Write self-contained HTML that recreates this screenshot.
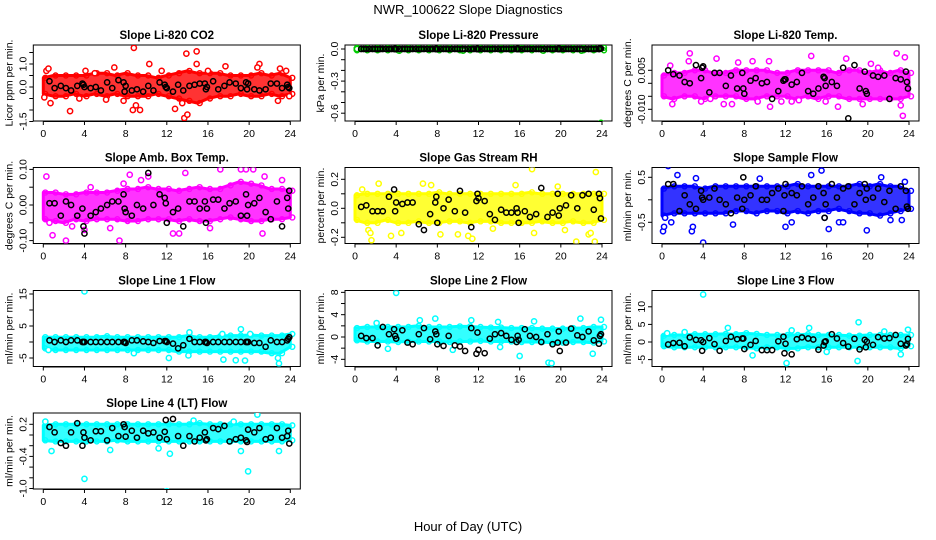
<!DOCTYPE html>
<html><head><meta charset="utf-8"><style>
html,body{margin:0;padding:0;background:#fff}
svg{display:block;font-family:"Liberation Sans",sans-serif}
</style></head><body>
<svg id="c" width="936" height="540" viewBox="0 0 936 540">
<text x="468" y="14" text-anchor="middle" font-size="13">NWR_100622  Slope Diagnostics</text>
<text x="468" y="531" text-anchor="middle" font-size="13">Hour of Day (UTC)</text>
</svg>
<script>
// shared data
const bandHours=[0,1,2,3,4,5,6,7,8,9,10,11,12,13,14,15,16,17,18,19,20,21,22,23,24];
const blackHours=[0.6,1.1,1.7,2.2,2.7,3.3,3.8,3.9,4.0,4.6,5.1,5.6,6.2,6.7,7.3,7.8,7.9,8.0,8.6,9.1,9.7,10.2,10.7,11.3,11.8,11.9,12.0,12.6,13.1,13.6,14.2,14.7,15.2,15.7,15.8,15.9,16.5,17.0,17.6,18.1,18.7,19.2,19.7,19.8,19.9,20.5,21.0,21.6,22.1,22.7,23.2,23.7,23.8,23.9];
const xTicks=[0,4,8,12,16,20,24];
// panel 1 CO2
const co2Lo=[-0.3,-0.4,-0.4,-0.3,-0.4,-0.3,-0.4,-0.3,-0.4,-0.4,-0.4,-0.3,-0.4,-0.5,-0.6,-0.7,-0.5,-0.4,-0.4,-0.3,-0.4,-0.4,-0.3,-0.4,-0.3];
const co2Hi=[0.4,0.5,0.5,0.5,0.5,0.6,0.6,0.5,0.6,0.5,0.5,0.4,0.5,0.6,0.7,0.6,0.6,0.6,0.5,0.5,0.5,0.6,0.5,0.6,0.4];
const co2PtX=[0.3,0.5,0.7,2.6,4.1,6.9,7.8,8.8,9.0,8.7,9.4,10.3,12.8,13.7,13.9,13.5,14.0,14.9,14.9,17.7,21.0,20.8,23.0,23.6,23.9,22.8,5.0,11.5,16.0,0.1,3.5,6.1];
const co2PtY=[0.7,0.8,-0.7,-1.05,0.7,0.85,-0.6,1.7,-0.8,-1.0,-1.0,1.0,-0.95,-1.35,1.45,-0.7,-1.2,1.55,1.0,0.9,1.0,0.85,0.8,0.7,-0.4,-0.6,0.6,0.7,0.7,-0.45,-0.5,-0.55];
const co2Black=[0.25,-0.05,0.05,-0.05,-0.15,0.05,0.15,0.1,0.0,-0.05,0.0,-0.15,0.2,-0.05,0.3,0.2,-0.2,0.05,-0.15,-0.1,-0.2,0.05,-0.15,0.2,0.1,0.0,-0.05,-0.2,0.1,-0.15,0.05,0.1,0.15,0.15,-0.1,0.0,0.25,-0.1,0.05,0.2,0.15,-0.05,0.2,-0.1,0.15,-0.1,-0.15,-0.1,0.15,0.15,-0.05,0.1,0.0,-0.05];
// panel 2 Pressure
const presLo=[-0.012,-0.012,-0.012,-0.012,-0.012,-0.012,-0.012,-0.012,-0.012,-0.012,-0.012,-0.012,-0.012,-0.012,-0.012,-0.012,-0.012,-0.012,-0.012,-0.012,-0.012,-0.012,-0.012,-0.012,-0.012];
const presHi=[0.01,0.01,0.01,0.01,0.01,0.012,0.01,0.01,0.01,0.01,0.01,0.01,0.01,0.01,0.01,0.01,0.012,0.01,0.01,0.012,0.01,0.01,0.01,0.01,0.012];
const presPtX=[8.0,16.0,23.9,0.2,4.3,10.5,18.3,22.0];
const presPtY=[-0.73,-0.75,-0.69,0.0,-0.015,-0.015,-0.015,-0.015];
const presBlack=[0,0,0,0,0,0,0,0,0,0,0,0,0,0,0,0,0,0,0,0,0,0,0,0,0,0,0,0,0,0,0,0,0,0,0,0,0,0,0,0,0,0,0,0,0,0,0,0,0,0,0,0,0.005,0.005];
// panel 3 Temp
const tempLo=[-0.005,-0.006,-0.005,-0.005,-0.006,-0.005,-0.005,-0.005,-0.006,-0.006,-0.005,-0.005,-0.005,-0.006,-0.005,-0.006,-0.005,-0.005,-0.006,-0.006,-0.006,-0.006,-0.006,-0.006,-0.005];
const tempHi=[0.003,0.004,0.004,0.005,0.005,0.004,0.004,0.005,0.005,0.005,0.005,0.004,0.004,0.005,0.005,0.005,0.005,0.004,0.005,0.005,0.004,0.005,0.004,0.005,0.004];
const tempPtX=[1.0,2.7,2.6,3.8,4.7,5.3,6.0,6.8,7.4,8.8,9.3,10.5,11.6,12.6,13.3,14.5,15.9,17.1,17.9,19.5,20.3,21.0,22.8,23.2,23.4,23.6,0.8,10.4];
const tempPtY=[-0.008,0.0115,0.0085,-0.007,-0.006,0.0095,-0.008,-0.008,0.008,0.0085,-0.007,-0.009,-0.007,-0.007,-0.0065,0.0105,-0.007,-0.009,0.0095,-0.008,0.0075,0.006,0.0115,-0.0085,-0.0125,0.010,0.0068,0.0085];
const tempBlack=[0.005,0.0035,0.003,0.0005,0,0.007,0.002,0.006,0.0065,-0.0035,0.004,0.004,-0.001,0.003,-0.002,0.004,-0.002,-0.004,0.001,0.002,0.0,0.0005,-0.006,-0.003,0.001,0.0015,0.0015,-0.0005,0.0005,0.004,-0.003,-0.004,-0.002,0.0025,0.002,-0.001,0.0005,-0.001,0.006,-0.0135,0.007,-0.002,0.0045,-0.003,-0.004,0.003,0.0025,0.003,-0.006,0.002,0.0015,0.0045,0.0005,-0.002];
// panel 4 Amb box temp
const ambLo=[-0.04,-0.045,-0.05,-0.04,-0.045,-0.04,-0.04,-0.04,-0.045,-0.045,-0.04,-0.04,-0.04,-0.045,-0.04,-0.045,-0.045,-0.04,-0.035,-0.04,-0.045,-0.045,-0.04,-0.04,-0.035];
const ambHi=[0.035,0.035,0.03,0.03,0.035,0.035,0.035,0.04,0.045,0.045,0.05,0.045,0.045,0.04,0.045,0.05,0.045,0.045,0.055,0.065,0.06,0.055,0.045,0.045,0.04];
const ambPtX=[0.3,0.6,0.9,2.2,4.0,4.6,7.4,7.8,8.4,9.5,10.2,12.6,13.2,13.8,17.2,19.2,19.7,20.4,21.3,21.5,23.2,2.8,6.5,16.2];
const ambPtY=[0.08,-0.05,-0.085,-0.1,-0.07,0.05,-0.1,0.06,0.085,0.07,0.08,-0.08,-0.08,0.09,0.1,0.1,0.1,0.1,-0.08,0.08,0.07,-0.06,-0.065,-0.065];
const ambBlack=[0.005,0.005,-0.03,0.01,0.0,-0.03,-0.01,-0.06,-0.08,-0.03,-0.02,-0.01,0.0,0.01,0.01,0.03,-0.01,-0.02,-0.03,0.0,-0.01,0.09,0.0,0.03,0.02,0.005,-0.05,-0.02,-0.01,-0.06,0.01,0.01,-0.01,0.01,-0.05,-0.01,0.015,0.015,-0.01,0.005,0.01,-0.03,0.03,-0.03,0.0,0.005,0.02,-0.02,-0.04,0.01,-0.06,0.02,-0.01,0.04];
// panel 5 RH
const rhLo=[-0.08,-0.1,-0.1,-0.08,-0.1,-0.1,-0.09,-0.1,-0.1,-0.09,-0.09,-0.1,-0.09,-0.09,-0.1,-0.1,-0.1,-0.1,-0.09,-0.1,-0.1,-0.09,-0.1,-0.1,-0.08];
const rhHi=[0.09,0.1,0.1,0.1,0.1,0.1,0.1,0.1,0.11,0.1,0.1,0.1,0.1,0.1,0.1,0.1,0.1,0.11,0.1,0.1,0.1,0.1,0.1,0.1,0.1];
const rhPtX=[0.7,1.3,1.6,2.3,3.5,4.5,6.6,7.4,8.3,10.0,11.0,11.4,13.4,15.6,17.2,17.4,19.7,21.5,22.7,22.9,23.3,23.4,1.5,20.4];
const rhPtY=[0.13,-0.15,-0.22,0.17,-0.19,-0.17,0.17,0.16,-0.18,-0.18,-0.19,-0.21,-0.14,0.16,0.27,-0.17,0.15,-0.23,-0.18,-0.17,-0.23,0.25,-0.17,-0.15];
const rhBlack=[0.01,0.02,-0.02,-0.02,-0.02,0.08,0.13,-0.02,0.04,0.03,0.04,0.04,-0.11,-0.15,-0.04,0.04,0.08,-0.1,0.0,0.06,-0.02,0.12,-0.03,-0.13,0.05,0.1,0.07,0.05,-0.04,-0.08,-0.01,-0.03,-0.03,0.0,-0.03,-0.1,-0.02,-0.06,-0.04,0.14,-0.06,-0.03,0.1,-0.05,0.0,0.02,0.09,0.0,0.09,0.1,-0.01,0.1,0.07,-0.07];
// panel 6 Sample flow
const smpLo=[-0.35,-0.3,-0.3,-0.3,-0.3,-0.3,-0.3,-0.25,-0.25,-0.3,-0.25,-0.25,-0.3,-0.25,-0.3,-0.25,-0.25,-0.2,-0.25,-0.3,-0.3,-0.35,-0.3,-0.25,-0.2];
const smpHi=[0.25,0.3,0.3,0.3,0.25,0.3,0.3,0.3,0.3,0.3,0.3,0.3,0.3,0.35,0.3,0.3,0.3,0.3,0.3,0.35,0.3,0.35,0.3,0.3,0.2];
const smpPtX=[0.1,0.2,0.3,0.6,1.5,2.9,3.0,3.3,4.0,6.9,9.5,12.0,12.6,14.5,15.5,15.8,16.2,17.2,17.6,19.9,21.3,22.2,23.3,23.6,0.9];
const smpPtY=[-0.7,-0.6,-0.4,0.75,0.55,-0.7,-0.6,0.48,-0.95,-0.55,0.47,-0.6,-0.5,0.55,0.65,-0.4,-0.65,-0.5,-0.5,-0.68,0.5,-0.45,-0.45,0.4,-0.5];
const smpBlack=[0.35,0.35,-0.25,0.1,-0.1,-0.2,0.2,0.05,0.0,0.05,0.25,0.0,-0.1,-0.3,0.05,-0.2,0.5,0.0,0.1,0.3,0.0,0.0,0.15,0.25,-0.25,0.1,0.35,0.15,0.1,0.3,-0.1,0.05,0.3,0.15,-0.4,-0.1,0.35,0.05,0.25,0.3,-0.1,0.15,0.35,0.0,0.25,0.05,0.25,-0.05,0.2,-0.2,0.3,0.2,-0.15,-0.2];
// panel 7 Line 1
const l1Lo=[-2,-2.5,-2.5,-2.5,-2.5,-2.5,-2.5,-2.5,-2.5,-2.5,-2.5,-2.5,-2.5,-3,-3,-3,-3,-3,-3,-3,-3,-3,-3.5,-3.5,-1.5];
const l1Hi=[1.5,1.5,1.5,1.5,1.5,1.5,1.8,1.5,1.5,1.5,1.5,1.5,1.5,1.5,2,1.5,1.5,1.8,2,2,2.2,2,2,2,2.5];
const l1PtX=[4.0,19.2,14.2,17.4,22.9,22.8,12.2,17.5,18.7,19.6,14.1,20.1,0.5,8.8];
const l1PtY=[15.8,4.0,3.0,2.5,-6.7,-5.0,-5.0,-5.5,-5.7,-5.8,-4.2,2.5,-2.5,-3.5];
const l1Black=[0.5,0,0.5,0,0.5,0.5,0,0,0,0,0,0,0,0,0,0,0,-0.3,0.5,0.5,0.2,0,-0.3,0.3,0.3,0.3,0,-0.5,-2,-1,1,0,0,0,0,-0.3,0,0,0,0,0,0,0,0,0,-0.3,-0.3,-1.5,0.5,0,0,0.5,1,1.5];
// panel 8 Line 2
const l2Lo=[-0.6,-0.8,-0.8,-0.8,-0.9,-0.8,-0.8,-0.8,-0.8,-0.9,-0.8,-0.8,-0.7,-0.8,-0.8,-0.8,-0.9,-0.9,-0.9,-1.0,-1.0,-0.9,-0.9,-1.0,-0.8];
const l2Hi=[1.6,1.8,1.8,1.8,1.8,1.8,2.0,1.8,1.8,1.8,1.9,1.9,1.8,1.7,1.7,1.6,1.6,1.6,1.5,1.5,1.5,1.6,1.6,1.8,1.8];
const l2PtX=[4.0,18.8,19.1,16.0,21.9,23.9,7.8,6.3,3.2,9.5,11.3,14.1,17.4,23.1,13.9,2.1];
const l2PtY=[7.9,-4.6,-4.7,-3.4,3.3,3.1,3.3,3.0,-2.1,-2.3,3.0,-1.8,2.8,-3.0,2.7,2.5];
const l2Black=[0.2,-0.2,-0.2,-1.5,1.8,0.5,1.4,0.2,-0.3,1.2,-1.0,-1.3,0.5,1.6,-0.4,1.0,0.5,-1.3,-1.6,0.2,-1.5,-1.7,-2.5,1.6,-3.0,0.8,-2.3,-2.9,-0.3,0.5,0.7,0.2,-0.5,-0.9,0.2,-0.5,1.4,0.2,0.0,-0.9,0.5,-1.3,-1.0,1.0,-2.5,-1.0,1.5,0.3,0.0,1.0,-0.6,-1.2,0.2,0.5];
// panel 9 Line 3
const l3Lo=[-1.2,-1.5,-1.5,-1.5,-1.5,-1.5,-1.5,-1.5,-1.5,-1.8,-1.5,-1.5,-1.8,-1.8,-1.5,-1.5,-1.5,-1.5,-1.5,-1.5,-1.5,-1.5,-1.5,-1.8,-1.2];
const l3Hi=[1.8,2.0,2.0,2.2,2.2,2.2,2.3,2.2,2.5,2.3,2.0,2.0,2.0,2.0,2.2,2.0,2.0,2.0,1.8,1.8,2.0,2.0,2.0,2.0,2.0];
const l3PtX=[4.0,19.1,19.0,12.1,23.2,23.9,14.3,6.4,8.8,0.5,2.2,12.6,16.0,21.6];
const l3PtY=[13.5,5.6,-5.4,-6.0,-3.5,3.5,4.0,4.0,-3.8,2.5,2.8,3.3,-2.8,3.0];
const l3Black=[-0.7,-0.3,-0.2,-1.2,1.3,0.6,0.5,-2.5,0.0,1.1,-0.6,-2.5,0.3,1.5,0.8,1.0,1.0,-2,-0.8,0.3,-2.3,-2.3,-2.3,0.2,1.5,-3.2,-0.5,-3.5,0.8,1.3,1.0,0.7,-2.2,-1.0,0.0,0.2,2.2,1.0,-0.3,-1.3,0.9,-2.1,0.6,-1.5,0.1,-0.8,1.4,1.0,1.1,2.0,-0.5,-1.0,-0.6,0.9];
// panel 10 Line 4
const l4Lo=[-0.1,-0.12,-0.12,-0.12,-0.12,-0.12,-0.12,-0.1,-0.12,-0.12,-0.12,-0.12,-0.12,-0.12,-0.12,-0.12,-0.12,-0.12,-0.12,-0.12,-0.12,-0.12,-0.12,-0.12,-0.1];
const l4Hi=[0.18,0.2,0.2,0.2,0.2,0.2,0.2,0.2,0.2,0.2,0.2,0.2,0.2,0.2,0.2,0.22,0.2,0.2,0.2,0.2,0.2,0.2,0.2,0.2,0.18];
const l4PtX=[4.0,12.0,19.9,20.8,12.3,0.8,0.2,11.2,14.6,18.5,19.2,22.9,6.5];
const l4PtY=[-0.82,-1.05,-0.68,0.38,-0.35,-0.3,0.25,-0.25,0.27,0.25,-0.3,-0.3,-0.28];
const l4Black=[0.15,0.05,-0.15,-0.2,0.05,0.22,-0.2,0.05,-0.05,-0.1,0.07,0.07,-0.1,0.13,-0.02,0.2,0.15,-0.03,0.08,-0.05,0.08,0.03,0.05,-0.05,0.06,0.28,-0.08,0.3,-0.02,-0.2,-0.02,-0.12,-0.05,0.05,-0.1,-0.08,0.13,0.11,0.17,-0.12,-0.08,-0.05,-0.1,-0.13,0.1,0.05,0.13,-0.08,-0.05,0.13,-0.05,-0.02,0.08,-0.16];

const NS='http://www.w3.org/2000/svg';
const svg=document.getElementById('c');
function mk(tag,attrs,parent){const e=document.createElementNS(NS,tag);for(const k in attrs)e.setAttribute(k,attrs[k]);(parent||svg).appendChild(e);return e;}
const colX=[43.3,355,662], rowTop=[45,167.5,290.5,413], boxH=76;
const panels=[
 {c:0,r:0,t:'Slope Li-820 CO2',yl:'Licor ppm per min.',col:'#ff0000',z:42,s:23,tv:[-1.5,-1,-0.5,0,0.5,1,1.5],tl:['-1.5','0.0','1.0'],tlv:[-1.5,0,1],lo:co2Lo,hi:co2Hi,px:co2PtX,py:co2PtY,bk:co2Black},
 {c:1,r:0,t:'Slope Li-820 Pressure',yl:'kPa per min.',col:'#00cc00',z:4,s:107,tv:[0,-0.1,-0.2,-0.3,-0.4,-0.5,-0.6],tl:['0.0','-0.3','-0.6'],tlv:[0,-0.3,-0.6],lo:presLo,hi:presHi,px:presPtX,py:presPtY,bk:presBlack},
 {c:2,r:0,t:'Slope Li-820 Temp.',yl:'degrees C per min.',col:'#ff00ff',z:38.3,s:2600,tv:[0.005,0,-0.005,-0.01],tl:['0.005','-0.010'],tlv:[0.005,-0.01],lo:tempLo,hi:tempHi,px:tempPtX,py:tempPtY,bk:tempBlack},
 {c:0,r:1,t:'Slope Amb. Box Temp.',yl:'degrees C per min.',col:'#ff00ff',z:37.5,s:356,tv:[0.1,0.05,0,-0.05,-0.1],tl:['0.10','0.00','-0.10'],tlv:[0.1,0,-0.1],lo:ambLo,hi:ambHi,px:ambPtX,py:ambPtY,bk:ambBlack},
 {c:1,r:1,t:'Slope Gas Stream RH',yl:'percent per min.',col:'#ffff00',z:40.8,s:145,tv:[0.2,0.1,0,-0.1,-0.2],tl:['0.2','0.0','-0.2'],tlv:[0.2,0,-0.2],lo:rhLo,hi:rhHi,px:rhPtX,py:rhPtY,bk:rhBlack},
 {c:2,r:1,t:'Slope Sample Flow',yl:'ml/min per min.',col:'#0000ff',z:32.3,s:45,tv:[0.5,0,-0.5],tl:['0.5','-0.5'],tlv:[0.5,-0.5],lo:smpLo,hi:smpHi,px:smpPtX,py:smpPtY,bk:smpBlack},
 {c:0,r:2,t:'Slope Line 1 Flow',yl:'ml/min per min.',col:'#00ffff',z:51.5,s:3.2,tv:[15,10,5,0,-5],tl:['15','5','-5'],tlv:[15,5,-5],lo:l1Lo,hi:l1Hi,px:l1PtX,py:l1PtY,bk:l1Black},
 {c:1,r:2,t:'Slope Line 2 Flow',yl:'ml/min per min.',col:'#00ffff',z:46.5,s:5.58,tv:[8,6,4,2,0,-2,-4],tl:['8','4','0','-4'],tlv:[8,4,0,-4],lo:l2Lo,hi:l2Hi,px:l2PtX,py:l2PtY,bk:l2Black},
 {c:2,r:2,t:'Slope Line 3 Flow',yl:'ml/min per min.',col:'#00ffff',z:51.5,s:3.52,tv:[10,5,0,-5],tl:['10','5','0','-5'],tlv:[10,5,0,-5],lo:l3Lo,hi:l3Hi,px:l3PtX,py:l3PtY,bk:l3Black},
 {c:0,r:3,t:'Slope Line 4 (LT) Flow',yl:'ml/min per min.',col:'#00ffff',z:22,s:53.5,tv:[0.2,0,-0.2,-0.4,-0.6,-0.8,-1.0],tl:['0.2','-0.4','-1.0'],tlv:[0.2,-0.4,-1.0],lo:l4Lo,hi:l4Hi,px:l4PtX,py:l4PtY,bk:l4Black}
];
panels.forEach((p,i)=>{
 const x0=colX[p.c], top=rowTop[p.r], bottom=top+boxH, left=x0-10, right=x0+257;
 const X=h=>x0+h*(247/24), Y=v=>top+p.z-v*p.s;
 const g=mk('g',{});
 
 
 const cp=mk('clipPath',{id:'cp'+i},g);mk('rect',{x:left,y:top,width:right-left,height:boxH},cp);
 const tt=mk('text',{x:(left+right)/2,y:top-6,'text-anchor':'middle','font-size':11.5,'font-weight':'bold'},g);tt.textContent=p.t;
 
 
 const box=mk('rect',{x:left,y:top,width:right-left,height:boxH,fill:'none',stroke:'#000','stroke-width':1},g);
 
 
 const dg=mk('g',{'clip-path':'url(#cp'+i+')'},g);
 let d='M'+bandHours.map((h,k)=>X(h)+','+Y(p.hi[k])).join('L');
 for(let k=bandHours.length-1;k>=0;k--)d+='L'+X(bandHours[k])+','+Y(p.lo[k]);
 const band=mk('path',{d:d+'Z',fill:p.col,'fill-opacity':0.8,stroke:p.col,'stroke-width':3,'stroke-linejoin':'round'},dg);
 
 
 bandHours.forEach((h,k)=>{[p.hi[k],p.lo[k]].forEach(v=>{const c=mk('circle',{cx:X(h)+2,cy:Y(v),r:2.5,fill:'none',stroke:p.col,'stroke-width':1.4},dg);
  
  });});
 p.px.forEach((h,k)=>{const c=mk('circle',{cx:X(h),cy:Y(p.py[k]),r:2.6,fill:'#fff',stroke:p.col,'stroke-width':1.5},dg);
  
  });
 const n=Math.min(blackHours.length,p.bk.length);
 for(let k=0;k<n;k++){const c=mk('circle',{cx:X(blackHours[k]),cy:Y(p.bk[k]),r:2.6,fill:'none',stroke:'#000','stroke-width':1.5},dg);
  
  }
 if(i===1){for(let k=0;k+1<n;k++){const c=mk('circle',{cx:(X(blackHours[k])+X(blackHours[k+1]))/2,cy:Y(p.bk[k]),r:2.6,fill:'none',stroke:'#000','stroke-width':1.5},dg);
  
  }}
 xTicks.forEach(h=>{mk('line',{x1:X(h),x2:X(h),y1:bottom,y2:bottom+4,stroke:'#000'},g);
  const t=mk('text',{x:X(h),y:bottom+16,'text-anchor':'middle','font-size':10.5},g);t.textContent=h;
  
  });
 mk('line',{x1:X(0),x2:X(24),y1:bottom+0.5,y2:bottom+0.5,stroke:'#000'},g);
 p.tv.forEach(v=>mk('line',{x1:left-4,x2:left,y1:Y(v),y2:Y(v),stroke:'#000'},g));
 p.tl.forEach((l,k)=>{const yy=Y(p.tlv[k]);const t=mk('text',{x:left-7,y:yy,'text-anchor':'middle','font-size':10.5,transform:'rotate(-90 '+(left-7)+' '+yy+')'},g);t.textContent=l;
  
  });
 const yc=top+boxH/2;
 const yl=mk('text',{x:left-21,y:yc,'text-anchor':'middle','font-size':10.5,transform:'rotate(-90 '+(left-21)+' '+yc+')'},g);yl.textContent=p.yl;
 
 
});
</script>
</body></html>
